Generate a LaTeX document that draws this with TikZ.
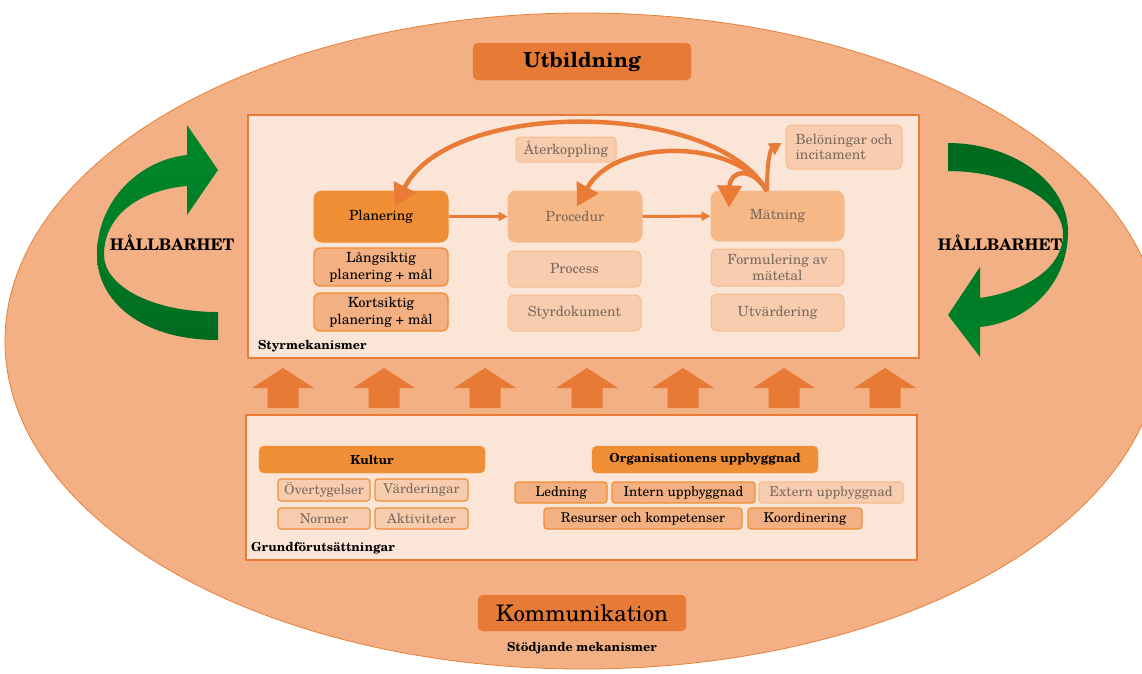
\documentclass[tikz,border=0pt]{standalone}
\usepackage{fontspec}
\setmainfont{TeX Gyre Schola}
\usetikzlibrary{arrows.meta}
\definecolor{ellfill}{HTML}{F2B084}
\definecolor{ellline}{HTML}{E8803A}
\definecolor{panelfill}{HTML}{FBE5D6}
\definecolor{panelline}{HTML}{E97B36}
\definecolor{darkor}{HTML}{E77A35}
\definecolor{midor}{HTML}{EF8E35}
\definecolor{lightor}{HTML}{F3B183}
\definecolor{fadeor}{HTML}{F5B886}
\definecolor{fadeline}{HTML}{F6BC8E}
\definecolor{paleor}{HTML}{F8CDAF}
\definecolor{fadetext}{HTML}{7F6B5E}
\definecolor{gbright}{HTML}{00852A}
\definecolor{gdark}{HTML}{006A1F}
\tikzset{
  panel/.style={draw=panelline, line width=2.5pt, fill=panelfill, rectangle, inner sep=0pt},
  titlebox/.style={fill=darkor, draw=darkor, rounded corners=5pt, inner sep=0pt},
  mainbox/.style={rounded corners=8pt, fill=midor, draw=midor, line width=1pt, inner sep=0pt, align=center, font=\fontsize{14}{17}\selectfont},
  subbox/.style={rounded corners=6pt, fill=lightor, draw=midor, line width=1.3pt, inner sep=0pt, align=center, font=\fontsize{14}{17}\selectfont},
  fmainbox/.style={rounded corners=8pt, fill=fadeor, draw=fadeline, line width=1pt, inner sep=0pt, align=center, text=fadetext, font=\fontsize{14}{17}\selectfont},
  fsubbox/.style={rounded corners=6pt, fill=paleor, draw=fadeline, line width=1pt, inner sep=0pt, align=center, text=fadetext, font=\fontsize{14}{15.5}\selectfont},
  headbox/.style={rounded corners=5pt, fill=midor, draw=midor, inner sep=0pt, font=\bfseries\fontsize{12.5}{14}\selectfont},
  itembox/.style={rounded corners=3pt, fill=lightor, draw=midor, line width=1.2pt, inner sep=0pt, font=\fontsize{13.5}{15}\selectfont},
  fitembox/.style={rounded corners=3pt, fill=paleor, draw=midor, line width=1.2pt, inner sep=0pt, text=fadetext, font=\fontsize{13.5}{15}\selectfont},
  xitembox/.style={rounded corners=3pt, fill=paleor, draw=fadeline, line width=1.2pt, inner sep=0pt, text=fadetext, font=\fontsize{13.5}{15}\selectfont},
  conn/.style={draw=panelline, line width=3pt, -{Triangle[length=9pt,width=9pt]}},
  fback/.style={draw=panelline, line width=4.5pt, -{Triangle[length=22pt,width=24pt]}},
  fsmall/.style={draw=panelline, line width=4pt, -{Triangle[length=12pt,width=13pt]}},
  uparrow/.style={fill=darkor},
  lbl/.style={font=\bfseries\fontsize{12.5}{14}\selectfont, inner sep=0pt},
  hb/.style={font=\bfseries\fontsize{16}{18}\selectfont, inner sep=0pt}
}
\begin{document}
\begin{tikzpicture}[x=1pt,y=-1pt]
\useasboundingbox (0,0) rectangle (1142,673);
% outer ellipse
\draw[fill=ellfill, draw=ellline, line width=0.8pt] (583,341) ellipse [x radius=578pt, y radius=328pt];

% titles
\node[titlebox, minimum width=218pt, minimum height=37pt, font=\bfseries\fontsize{20.8}{22}\selectfont] (utb) at (582,61.5) {Utbildning};
\node[titlebox, minimum width=208pt, minimum height=36pt, font=\fontsize{22.8}{24}\selectfont] (komm) at (582,613) {Kommunikation};
\node[lbl] (stod) at (582,648) {Stödjande mekanismer};

% panels
\node[panel, minimum width=671pt, minimum height=243pt] (styr) at (583.5,236.5) {};
\node[panel, minimum width=671pt, minimum height=145pt] (grund) at (581.5,487.5) {};
\node[lbl, anchor=west] (styrl) at (258,346) {Styrmekanismer};
\node[lbl, anchor=west] (grundl) at (251,548) {Grundförutsättningar};

% upward arrows
\foreach \c in {283,384,485,587,683,784,885}{
  \fill[uparrow] (\c-31,388) -- (\c,368) -- (\c+31,388) -- (\c+15.5,388) -- (\c+15.5,408) -- (\c-15.5,408) -- (\c-15.5,388) -- cycle;
}

% Styrmekanismer nodes
\node[mainbox, minimum width=134pt, minimum height=51pt] (plan) at (381,216.5) {Planering};
\node[subbox, minimum width=134pt, minimum height=38pt] (lang) at (381,267) {Långsiktig\\planering + mål};
\node[subbox, minimum width=134pt, minimum height=38pt] (kort) at (381,312) {Kortsiktig\\planering + mål};
\node[fmainbox, minimum width=134pt, minimum height=51pt] (proc) at (575,216.5) {Procedur};
\node[fsubbox, minimum width=133pt, minimum height=36pt] (process) at (574.5,269) {Process};
\node[fsubbox, minimum width=133pt, minimum height=36pt] (styrdok) at (574.5,313) {Styrdokument};
\node[fsubbox, minimum width=100pt, minimum height=25pt, rounded corners=4pt] (ater) at (566,149.5) {Återkoppling};
\node[fmainbox, minimum width=133pt, minimum height=50pt] (mat) at (777.5,216) {Mätning};
\node[fsubbox, minimum width=133pt, minimum height=37pt] (form) at (777.5,267.5) {Formulering av\\mätetal};
\node[fsubbox, minimum width=133pt, minimum height=37pt] (utv) at (777.5,312.5) {Utvärdering};
\node[fsubbox, minimum width=116pt, minimum height=44pt, align=left] (belon) at (844,147) {Belöningar och\\incitament};

% connectors
\draw[conn] (plan) -- (proc);
\draw[conn] (proc) -- (mat);
\coordinate (mtop) at (767,191);
\draw[fback] (mtop) .. controls (715,100) and (450,98) .. ([xshift=14pt,yshift=-16pt]plan.north);
\draw[fback] (mtop) .. controls (735,138) and (615,138) .. ([xshift=2pt,yshift=-16pt]proc.north);
\draw[fback] (mtop) .. controls (752,166) and (730,170) .. ([xshift=-48.5pt,yshift=-17pt]mat.north);
\draw[fsmall] (mtop) .. controls (767,162) and (770,150) .. ([xshift=-4pt,yshift=4pt]belon.west);

% Grundförutsättningar nodes
\node[headbox, minimum width=226pt, minimum height=27pt] (kultur) at (372,459.5) {Kultur};
\node[fitembox, minimum width=92pt, minimum height=22pt] (overt) at (324,490) {Övertygelser};
\node[fitembox, minimum width=93pt, minimum height=22pt] (vard) at (421.5,490) {Värderingar};
\node[fitembox, minimum width=92pt, minimum height=21pt] (norm) at (324,518.5) {Normer};
\node[fitembox, minimum width=93pt, minimum height=21pt] (akt) at (421.5,518.5) {Aktiviteter};
\node[headbox, minimum width=226pt, minimum height=27pt] (org) at (705,459.5) {Organisationens uppbyggnad};
\node[itembox, minimum width=92pt, minimum height=21pt] (led) at (561,492.5) {Ledning};
\node[itembox, minimum width=143pt, minimum height=21pt] (intern) at (683.5,492.5) {Intern uppbyggnad};
\node[xitembox, minimum width=144pt, minimum height=21pt] (extern) at (831,492.5) {Extern uppbyggnad};
\node[itembox, minimum width=198pt, minimum height=21pt] (res) at (643,518.5) {Resurser och kompetenser};
\node[itembox, minimum width=114pt, minimum height=21pt] (koord) at (805,518.5) {Koordinering};

% green sustainability arrows
\shade[top color=gbright, bottom color=gdark, middle color=gbright!80!gdark]
  (218,340) .. controls (140,340) and (97,300) .. (97,255)
  .. controls (97,200) and (140,160) .. (187,155)
  -- (187,125) -- (218,170) -- (187,215) -- (187,186)
  .. controls (140,190) and (104,215) .. (104,255)
  .. controls (104,285) and (150,312) .. (218,312) -- cycle;
\shade[top color=gdark, bottom color=gbright, middle color=gdark!60!gbright]
  (948,143) .. controls (1010,143) and (1068,180) .. (1068,232)
  .. controls (1068,282) and (1030,322) .. (980,327)
  -- (980,357) -- (948,315) -- (980,267) -- (980,298)
  .. controls (1022,292) and (1063,270) .. (1063,234)
  .. controls (1063,200) and (1010,171) .. (948,171) -- cycle;
\node[hb] (hbl) at (172,243) {HÅLLBARHET};
\node[hb] (hbr) at (1000,243) {HÅLLBARHET};
\end{tikzpicture}
\end{document}
